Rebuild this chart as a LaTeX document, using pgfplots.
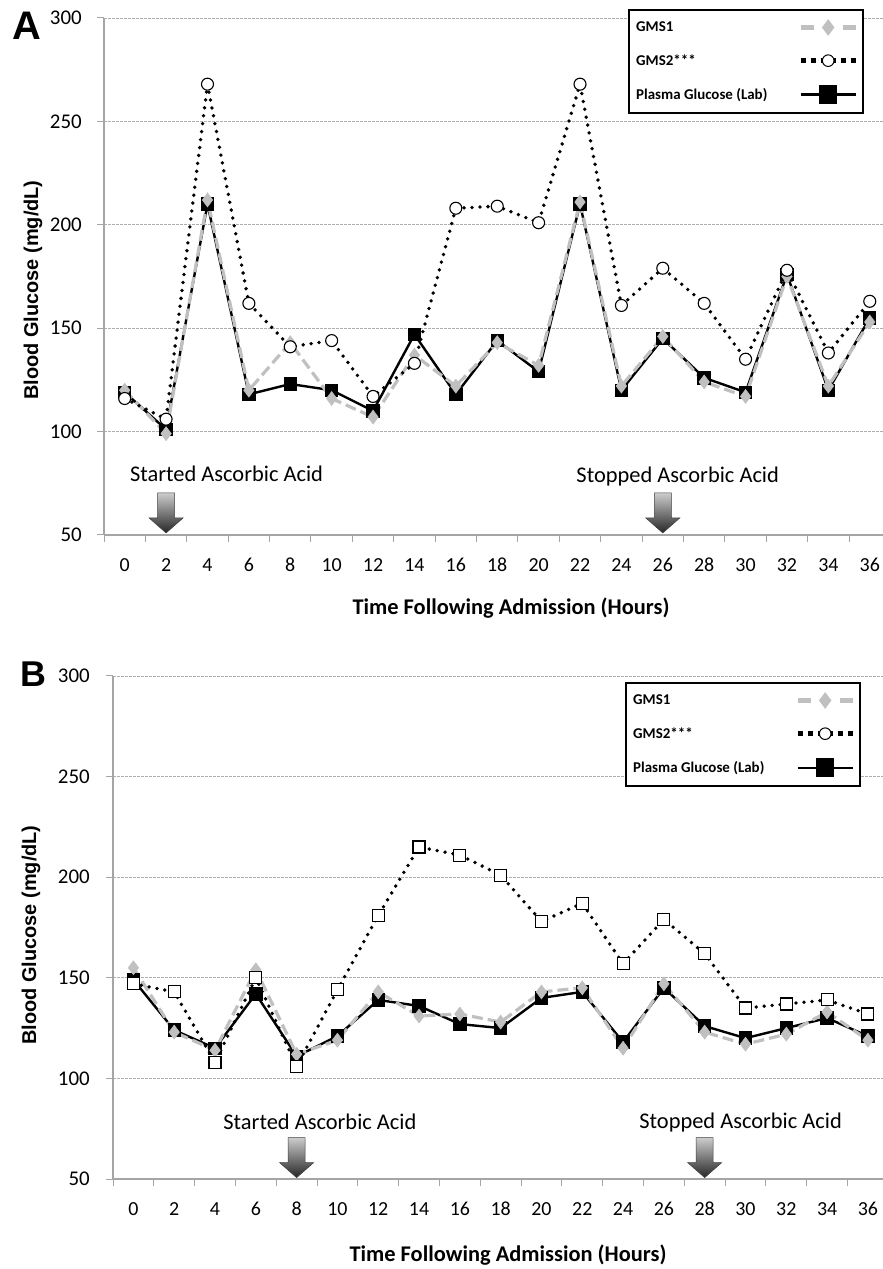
\documentclass[border=0pt]{standalone}
\usepackage{pgfplots}
\pgfplotsset{compat=1.18}
\usepackage{pgfplotstable}
\usepackage{fontspec}
\setmainfont{Carlito}
\newfontfamily\arialfont{Liberation Sans}
\definecolor{gmsgray}{RGB}{192,192,192}
\definecolor{axgray}{RGB}{165,165,165}
\definecolor{gridgray}{RGB}{175,175,175}

\pgfplotstableread{
x gmsone gmstwo lab
0 120 116 119
1 99 106 101
2 212 268 210
3 120 162 118
4 143 141 123
5 116 144 120
6 107 117 110
7 137 133 147
8 122 208 118
9 143 209 144
10 132 201 129
11 211 268 210
12 122 161 120
13 146 179 145
14 124 162 126
15 117 135 119
16 175 178 176
17 122 138 120
18 153 163 155
}\dataA

\pgfplotstableread{
x gmsone gmstwo lab
0 155 147 149
1 123 143 124
2 114 108 115
3 154 150 142
4 112 106 111
5 119 144 121
6 143 181 139
7 131 215 136
8 132 211 127
9 128 201 125
10 143 178 140
11 145 187 143
12 115 157 118
13 147 179 145
14 123 162 126
15 117 135 120
16 122 137 125
17 133 139 130
18 119 132 121
}\dataB

\pgfplotsset{
  panel/.style={
    scale only axis, anchor=south west,
    xmin=-0.5, ymin=50, ymax=300,
    ytick={50,100,...,300},
    yticklabels={},
    xtick={0,...,18},
    xticklabels={0,2,4,6,8,10,12,14,16,18,20,22,24,26,28,30,32,34,36},
    minor xtick={-0.5,0.5,...,17.5},
    axis x line*=bottom, axis y line*=left,
    axis line style={-, axgray, line width=1.2bp},
    every outer x axis line/.append style={-},
    every outer y axis line/.append style={-},
    tick align=outside,
    major tick length=7bp, minor tick length=7bp,
    major x tick style={draw=none},
    minor x tick style={axgray, line width=1bp},
    ytick style={axgray, line width=1bp},
    ymajorgrids,
    major grid style={gridgray, dash pattern=on 2.5bp off 1.5bp, line width=0.8bp},
    typeset ticklabels with strut,
    xticklabel style={font=\fontsize{20}{20}\selectfont, yshift=-12bp},
    clip=false,
    legend cell align=left, legend plot pos=right,
    legend style={draw=black, line width=1.6bp, font=\fontsize{15}{15}\selectfont\bfseries,
      inner xsep=5bp, inner ysep=10bp, row sep=17.5bp, anchor=north east},
    legend image code/.code={\draw[mark repeat=2,mark phase=2,##1] plot coordinates {(0bp,0bp) (27.5bp,0bp) (55bp,0bp)};},
  },
  gmsone/.style={gmsgray, line width=3.2bp, dash pattern=on 11bp off 5bp, mark=diamond*, mark size=7bp,
    mark options={solid, fill=gmsgray, draw=gmsgray, line width=0.5bp}},
  gmstwo/.style={black, line width=3.8bp, line cap=round, dash pattern=on 0bp off 8bp,
    mark options={solid, fill=white, draw=black, line width=1.1bp}},
  lab/.style={black, line width=2.4bp, mark=square*, mark size=5.5bp, mark options={solid, fill=black}},
  leggmsone/.style={legend image code/.code={
    \draw[gmsgray, line width=4.5bp, dash pattern=on 13bp off 29bp] (0bp,0bp) -- (55bp,0bp);
    \draw[draw=none, mark repeat=2, mark phase=2, mark=diamond*, mark size=7bp, mark options={fill=gmsgray, draw=gmsgray}] plot coordinates {(0bp,0bp) (27.5bp,0bp) (55bp,0bp)};}},
  leggmstwo/.style={legend image code/.code={
    \draw[black, line width=5bp, dash pattern=on 5bp off 5bp] (0bp,0bp) -- (55bp,0bp);
    \draw[draw=none, mark repeat=2, mark phase=2, mark=*, mark size=5.8bp, mark options={fill=white, draw=black, line width=1bp}] plot coordinates {(0bp,0bp) (27.5bp,0bp) (55bp,0bp)};}},
  leglab/.style={legend image code/.code={
    \draw[black, line width=2.5bp] (0bp,0bp) -- (55bp,0bp);
    \draw[draw=none, mark repeat=2, mark phase=2, mark=square*, mark size=8.5bp, mark options={fill=black, draw=black}] plot coordinates {(0bp,0bp) (27.5bp,0bp) (55bp,0bp)};}},
}

\newcommand{\ylabelsat}[1]{%
  \pgfplotsinvokeforeach{50,100,150,200,250,300}{%
    \node[anchor=east, inner sep=0pt, font=\fontsize{21}{21}\selectfont] at ([xshift=-#1]axis cs:-0.5,##1) {##1};}}

\newcommand{\bigarrow}[1]{%
  \begin{scope}[shift={(#1)}]
    \shade[top color=black!20, bottom color=black!85, draw=black!75, line width=0.6bp]
      (-8.5bp,40bp) -- (8.5bp,40bp) -- (8.5bp,15bp) -- (17bp,15bp) -- (0bp,0bp)
      -- (-17bp,15bp) -- (-8.5bp,15bp) -- cycle;
  \end{scope}}

\begin{document}
\begin{tikzpicture}
\useasboundingbox (0,0) rectangle (883bp,1269bp);

% ---------------- Panel A ----------------
\begin{axis}[panel, at={(104bp,734bp)}, width=779bp, height=517bp, xmax=18.32,
  legend style={at={(0.9756,1.0174)}}]
  \addplot[lab, forget plot] table[x=x, y=lab] {\dataA};
  \addplot[gmsone, forget plot] table[x=x, y=gmsone] {\dataA};
  \addplot[gmstwo, mark=*, mark size=6bp, forget plot] table[x=x, y=gmstwo] {\dataA};
  \addlegendimage{leggmsone}
  \addlegendentry{\makebox[160bp][l]{GMS1}}
  \addlegendimage{leggmstwo}
  \addlegendentry{\makebox[160bp][l]{GMS2***}}
  \addlegendimage{leglab}
  \addlegendentry{\makebox[160bp][l]{Plasma Glucose (Lab)}}
  \ylabelsat{22bp}
  \node[font=\fontsize{22.5}{22.5}\selectfont] at (axis cs:2.46,79.5) {Started Ascorbic Acid};
  \node[font=\fontsize{22.5}{22.5}\selectfont] at (axis cs:13.36,78.5) {Stopped Ascorbic Acid};
  \coordinate (tA1) at (axis cs:1,51);
  \coordinate (tA2) at (axis cs:13,51);
\end{axis}
\bigarrow{tA1}
\bigarrow{tA2}
\node[font=\arialfont\bfseries\fontsize{20}{20}\selectfont, rotate=90] at (33bp,979bp) {Blood Glucose (mg/dL)};
\node[font=\bfseries\fontsize{22.5}{22.5}\selectfont] at (511bp,661bp) {Time Following Admission (Hours)};
\node[font=\arialfont\bfseries\fontsize{40}{40}\selectfont, anchor=north west, inner sep=0pt] at (12bp,1257bp) {A};

% ---------------- Panel B ----------------
\begin{axis}[panel, at={(113bp,90bp)}, width=770bp, height=503bp, xmax=18.37,
  legend style={at={(0.9714,0.988)}}]
  \addplot[lab, forget plot] table[x=x, y=lab] {\dataB};
  \addplot[gmsone, forget plot] table[x=x, y=gmsone] {\dataB};
  \addplot[gmstwo, mark=square*, mark size=6bp, forget plot] table[x=x, y=gmstwo] {\dataB};
  \addlegendimage{leggmsone}
  \addlegendentry{\makebox[160bp][l]{GMS1}}
  \addlegendimage{leggmstwo}
  \addlegendentry{\makebox[160bp][l]{GMS2***}}
  \addlegendimage{leglab}
  \addlegendentry{\makebox[160bp][l]{Plasma Glucose (Lab)}}
  \ylabelsat{23bp}
  \node[font=\fontsize{22.5}{22.5}\selectfont] at (axis cs:4.57,78.6) {Started Ascorbic Acid};
  \node[font=\fontsize{22.5}{22.5}\selectfont] at (axis cs:14.88,78) {Stopped Ascorbic Acid};
  \coordinate (tB1) at (axis cs:4,50.7);
  \coordinate (tB2) at (axis cs:14,50.7);
\end{axis}
\bigarrow{tB1}
\bigarrow{tB2}
\node[font=\arialfont\bfseries\fontsize{20}{20}\selectfont, rotate=90] at (31bp,334bp) {Blood Glucose (mg/dL)};
\node[font=\bfseries\fontsize{22.5}{22.5}\selectfont] at (508bp,14bp) {Time Following Admission (Hours)};
\node[font=\arialfont\bfseries\fontsize{36}{36}\selectfont, anchor=north west, inner sep=0pt] at (20bp,607bp) {B};
\end{tikzpicture}
\end{document}
